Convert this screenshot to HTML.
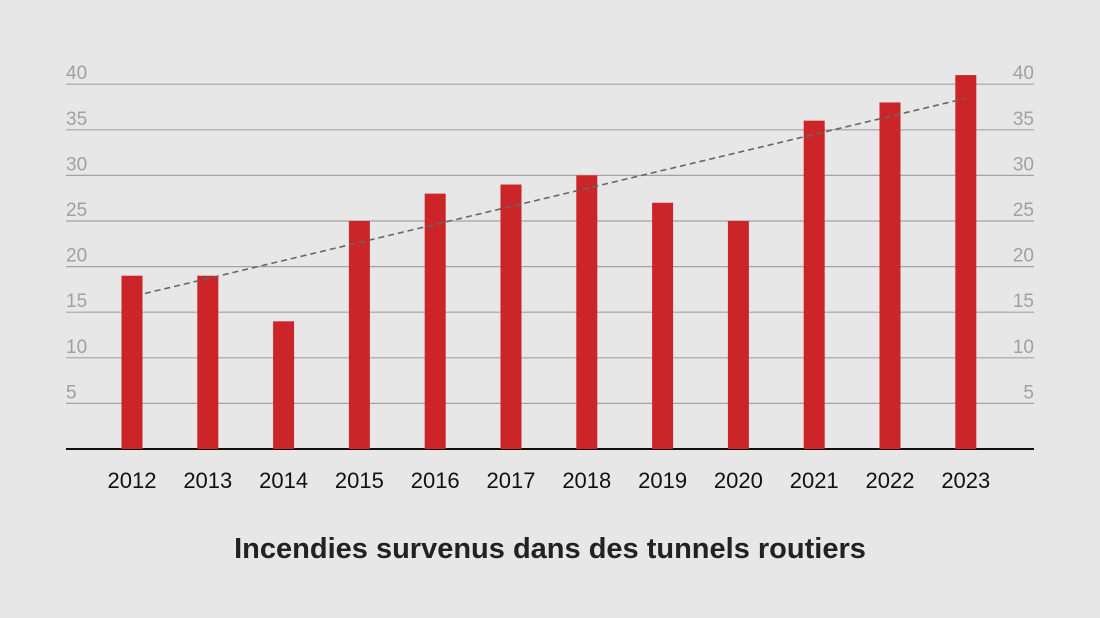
<!DOCTYPE html>
<html><head><meta charset="utf-8"><style>
html,body{margin:0;padding:0;background:#e6e7e6;}
svg{display:block;font-family:"Liberation Sans",sans-serif;}
</style></head><body>
<svg id="chart" width="1100" height="618" viewBox="0 0 1100 618">
<rect width="1100" height="618" fill="#e6e7e6"/>
<g id="grid"></g>
<g id="bars"></g>
<g id="trend"></g>
<g id="labels"></g>
<text x="550" y="558" text-anchor="middle" font-size="29" font-weight="bold" fill="#222">Incendies survenus dans des tunnels routiers</text>
</svg>
<script>
const categories = ["2012","2013","2014","2015","2016","2017","2018","2019","2020","2021","2022","2023"];
const values = [19,19,14,25,28,29,30,27,25,36,38,41];
const ticks = [5,10,15,20,25,30,35,40];
const NS="http://www.w3.org/2000/svg";
const x0=66,x1=1034,y0=449,pxPer=9.12;
const firstC=132,step=75.8,bw=21;
function y(v){return y0-v*pxPer;}
function xc(i){return firstC+i*step;}
function mk(tag,attrs,parent){const e=document.createElementNS(NS,tag);for(const k in attrs)e.setAttribute(k,attrs[k]);parent.appendChild(e);return e;}
const grid=document.getElementById('grid'),bars=document.getElementById('bars'),trend=document.getElementById('trend'),labels=document.getElementById('labels');
ticks.forEach(t=>{
  const l=mk('line',{x1:x0,x2:x1,y1:y(t),y2:y(t),stroke:'#a3a3a3','stroke-width':1.2},grid);
  
  
  const a=mk('text',{x:x0,y:y(t)-5,'font-size':19,fill:'#a0a0a0'},labels);a.textContent=t;
  
  
  const b=mk('text',{x:x1,y:y(t)-5,'font-size':19,fill:'#a0a0a0','text-anchor':'end'},labels);b.textContent=t;
  
  
});
values.forEach((v,i)=>{
  const r=mk('rect',{x:xc(i)-bw/2,y:y(v),width:bw,height:v*pxPer,fill:'#cc2529'},bars);
  
  
  const t=mk('text',{x:xc(i),y:488,'font-size':22,fill:'#111','text-anchor':'middle'},labels);t.textContent=categories[i];
  
  
});
const axis=mk('line',{x1:x0,x2:x1,y1:y0,y2:y0,stroke:'#111','stroke-width':2},grid);


// linear regression trend
const n=values.length;let mx=(n-1)/2,my=values.reduce((a,b)=>a+b,0)/n,sxy=0,sxx=0;
values.forEach((v,i)=>{sxy+=(i-mx)*(v-my);sxx+=(i-mx)*(i-mx);});
const slope=sxy/sxx,ic=my-slope*mx;
const xs=0.17,xe=n-1;
const tl=mk('line',{x1:xc(xs),y1:y(ic+slope*xs),x2:xc(xe),y2:y(ic+slope*xe),stroke:'#666','stroke-width':1.6,'stroke-dasharray':'6,4'},trend);


</script>
</body></html>
